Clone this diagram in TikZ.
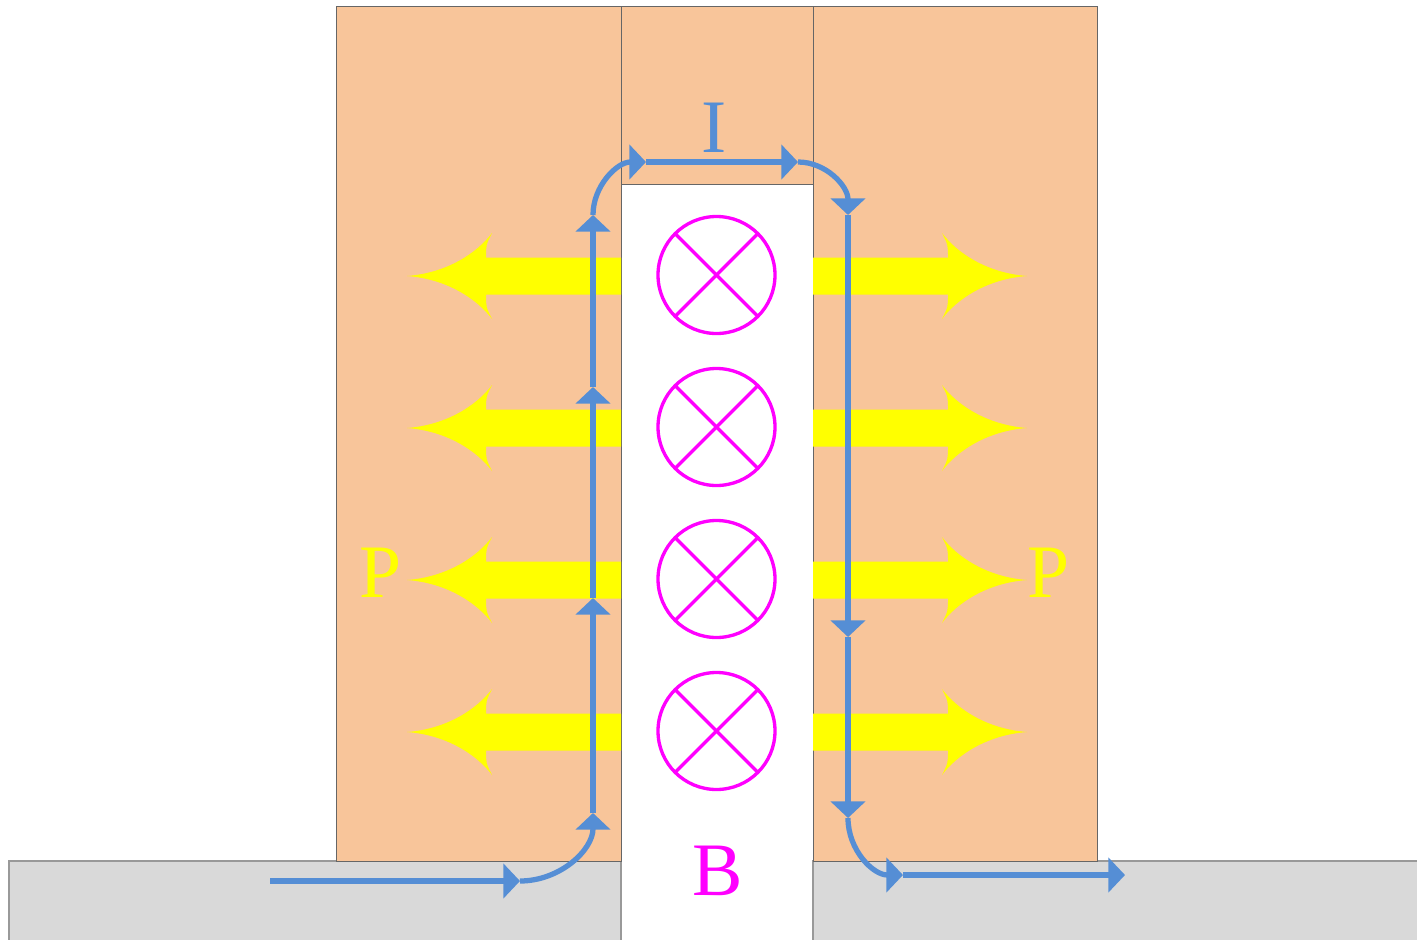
\documentclass[tikz,border=0pt]{standalone}
\usepackage{fontspec}
\setmainfont{Liberation Serif}
\usetikzlibrary{arrows.meta}
\definecolor{wall}{HTML}{F8C59A}
\definecolor{ground}{HTML}{D9D9D9}
\definecolor{current}{HTML}{558ED5}
\definecolor{force}{HTML}{FFFF00}
\definecolor{field}{HTML}{FF00FF}
\tikzset{
  wallbox/.style={fill=wall, draw=black!60, line width=0.5pt},
  groundbox/.style={fill=ground, draw=black!40, line width=0.7pt},
  wire/.style={draw=current, line width=3pt, -{Triangle[length=9.5pt,width=19.5pt]}},
  pusharrow/.style={fill=force, draw=none},
  fieldmark/.style={draw=field, line width=1.9pt},
  biglabel/.style={font=\fontsize{43}{43}\selectfont, inner sep=0pt}
}
\begin{document}
\begin{tikzpicture}[x=0.02cm, y=-0.02cm]
\useasboundingbox (0,0) rectangle (1417,940);
% ground
\draw[groundbox] (9,861) rectangle (621,945);
\draw[groundbox] (813,861) rectangle (1422,945);
% walls
\draw[wallbox] (336,6) rectangle (621,861);
\draw[wallbox] (621,6) rectangle (813,184);
\draw[wallbox] (813,6) rectangle (1097,861);
% yellow arrows
\foreach \c in {276,428,580,732}{
  \fill[pusharrow] (813,\c-18.5) -- (948,\c-18.5) .. controls (948,\c-31) .. (942,\c-43)
     .. controls (957,\c-23) and (987,\c-3) .. (1027,\c)
     .. controls (987,\c+3) and (957,\c+23) .. (942,\c+43)
     .. controls (948,\c+31) .. (948,\c+18.5) -- (813,\c+18.5) -- cycle;
  \fill[pusharrow] (621,\c-18.5) -- (486,\c-18.5) .. controls (486,\c-31) .. (492,\c-43)
     .. controls (477,\c-23) and (447,\c-3) .. (407,\c)
     .. controls (447,\c+3) and (477,\c+23) .. (492,\c+43)
     .. controls (486,\c+31) .. (486,\c+18.5) -- (621,\c+18.5) -- cycle;
}
% field markers
\foreach \c in {275,427,579,731}{
  \draw[fieldmark] (716.5,\c) circle[radius=58.5];
  \draw[fieldmark] (675.1,\c-41.4) -- (757.9,\c+41.4);
  \draw[fieldmark] (757.9,\c-41.4) -- (675.1,\c+41.4);
}
% current path
\coordinate (s) at (270,881);
\coordinate (a1) at (520,881);
\coordinate (a2) at (593,813);
\coordinate (a3) at (593,598);
\coordinate (a4) at (593,387);
\coordinate (a5) at (593,215);
\coordinate (a6) at (646,162);
\coordinate (a7) at (798,162);
\coordinate (a8) at (848,215);
\coordinate (a9) at (848,637);
\coordinate (a10) at (848,818);
\coordinate (a11) at (903,875);
\coordinate (a12) at (1125,875);
\draw[wire] (s) -- (a1);
\draw[wire] (a1) .. controls (560,881) and (593,850) .. (a2);
\draw[wire] (a2) -- (a3);
\draw[wire] (a3) -- (a4);
\draw[wire] (a4) -- (a5);
\draw[wire] (a5) .. controls (593,186) and (617,162) .. (a6);
\draw[wire] (a6) -- (a7);
\draw[wire] (a7) .. controls (826,162) and (848,186) .. (a8);
\draw[wire] (a8) -- (a9);
\draw[wire] (a9) -- (a10);
\draw[wire] (a10) .. controls (848,850) and (873,875) .. (a11);
\draw[wire] (a11) -- (a12);
% labels
\node[biglabel, text=current] (lI) at (714,128) {I};
\node[biglabel, text=force] (lPl) at (381,573) {P};
\node[biglabel, text=force] (lPr) at (1048,573) {P};
\node[biglabel, text=field] (lB) at (718,871) {B};
\end{tikzpicture}
\end{document}
